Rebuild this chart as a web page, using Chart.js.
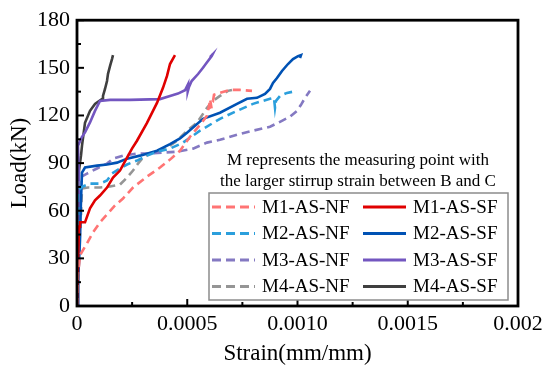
<!DOCTYPE html>
<html>
<head>
<meta charset="utf-8">
<script src="https://cdn.jsdelivr.net/npm/chart.js@4.4.0/dist/chart.umd.min.js"></script>
<style>
html, body { margin: 0; padding: 0; background: #fff; }
</style>
</head>
<body>
<canvas id="loadChart" width="550" height="370"></canvas>
<script>
// tick labels
const xTickLabels = ["0", "0.0005", "0.0010", "0.0015", "0.002"];
const yTickStep = 30;

// M1
const m1nfStrain = [0, 0.0000045, 0.0000136, 0.0000454, 0.0000726, 0.0001043, 0.0001406, 0.0001723, 0.0002086, 0.000254, 0.0003175, 0.0003764, 0.0004218, 0.0004671, 0.0005125, 0.0005578, 0.0005896, 0.0005986, 0.0006122, 0.0006032, 0.0006168, 0.0006213, 0.0006485, 0.0006939, 0.0007392, 0.0007937];
const m1nfLoad   = [0, 19.4, 32.0, 39.5, 46.4, 52.7, 58.3, 63.3, 67.7, 74.6, 81.5, 87.2, 92.2, 97.8, 106.6, 114.1, 119.8, 126.1, 122.9, 130.5, 129.2, 133.0, 134.2, 136.1, 136.1, 135.5];
const m1sfStrain = [0, 0.0000091, 0.0000136, 0.0000363, 0.000059, 0.0000816, 0.0001043, 0.0001361, 0.0001633, 0.000195, 0.0002268, 0.0002494, 0.0002721, 0.0003175, 0.0003628, 0.00039, 0.0004082, 0.0004218, 0.0004444];
const m1sfLoad   = [0, 50.0, 52.7, 52.7, 61.5, 66.5, 69.6, 74.6, 80.9, 85.3, 93.5, 99.1, 104.1, 115.4, 127.9, 137.4, 144.9, 152.4, 158.0];

// M2
const m2nfStrain = [0, 0.0000045, 0.0000045, 0.0000045, 0.0000272, 0.000059, 0.0001043, 0.0001361, 0.0001587, 0.000195, 0.0002268, 0.0002721, 0.0003175, 0.0003628, 0.0004218, 0.0004807, 0.0005578, 0.0006485, 0.0007256, 0.0007982, 0.0008435, 0.0008753, 0.0008934, 0.000898, 0.0009025, 0.0009206, 0.0009524, 0.0009977];
const m2nfLoad   = [0, 28.9, 66.5, 72.8, 75.3, 77.1, 77.1, 79.0, 83.4, 86.6, 89.1, 91.6, 94.7, 97.2, 99.1, 102.9, 110.4, 117.9, 122.9, 127.3, 129.2, 130.5, 131.1, 124.8, 129.2, 132.3, 134.2, 135.5];
const m2sfStrain = [0, 0.0000045, 0.0000136, 0.0000181, 0.0000227, 0.0000363, 0.0000907, 0.0001361, 0.0001814, 0.0002268, 0.0002857, 0.0003628, 0.0004218, 0.0004671, 0.0004989, 0.0005714, 0.0006485, 0.0007256, 0.000771, 0.0008163, 0.0008526, 0.0008753, 0.0008889, 0.000907, 0.0009297, 0.0009569, 0.0009796, 0.0010023, 0.0010159, 0.0010113];
const m2sfLoad   = [0, 14.4, 41.4, 66.5, 84.0, 87.2, 88.4, 89.1, 90.3, 92.8, 94.7, 97.8, 102.0, 105.5, 109.1, 117.9, 121.7, 127.3, 130.5, 131.1, 133.6, 136.7, 140.5, 143.6, 148.0, 152.4, 155.5, 157.4, 158.0, 156.2];

// M3
const m3nfStrain = [0, 0.0000045, 0.0000045, 0.0000136, 0.0000454, 0.0000907, 0.0001361, 0.0001633, 0.0002086, 0.0002721, 0.0003311, 0.00039, 0.0004535, 0.0005261, 0.0005896, 0.0006485, 0.0007256, 0.0007982, 0.0008753, 0.0009206, 0.000966, 0.0009977, 0.0010159, 0.001034, 0.0010567];
const m3nfLoad   = [0, 35.1, 72.8, 80.9, 83.4, 86.6, 89.7, 92.8, 94.7, 96.0, 96.0, 96.6, 97.2, 99.1, 102.9, 104.7, 107.9, 110.4, 112.9, 116.0, 119.2, 122.9, 126.7, 131.1, 135.5];
const m3sfStrain = [0, 0.0000045, 0.0000091, 0.0000045, 0.0000213, 0.0000363, 0.000059, 0.0000816, 0.0001043, 0.0001497, 0.0002404, 0.0003764, 0.0004218, 0.000458, 0.0004898, 0.0005034, 0.000502, 0.000508, 0.00052, 0.000549, 0.0005714, 0.000588, 0.000611, 0.000615, 0.000603];
const m3sfLoad   = [0, 35.1, 79.0, 101.0, 106.2, 109.3, 115.6, 122.9, 129.2, 129.8, 129.8, 130.3, 132.3, 133.8, 135.9, 139.7, 135.0, 138.0, 141.7, 146.1, 150.1, 153.2, 157.4, 158.5, 156.8];

// M4
const m4nfStrain = [0, 0.0000091, 0.0000136, 0.0000181, 0.0000227, 0.0000499, 0.0001043, 0.0001497, 0.000195, 0.0002268, 0.000254, 0.0002766, 0.0002993, 0.0003401, 0.0003764, 0.0004082, 0.0004535, 0.0004989, 0.0005442, 0.0005714, 0.0005896, 0.0006168, 0.0006485, 0.0006848, 0.0007029];
const m4nfLoad   = [0, 28.9, 47.7, 57.1, 74.0, 74.6, 74.6, 75.3, 76.5, 80.9, 85.3, 89.7, 93.5, 96.6, 97.8, 99.7, 104.1, 110.4, 115.4, 121.0, 124.8, 129.2, 132.3, 135.5, 136.1];
const m4sfStrain = [0, 0.0000045, 0.0000045, 0.0000091, 0.0000181, 0.0000227, 0.0000363, 0.000059, 0.0000816, 0.0001134, 0.0001179, 0.000127, 0.0001361, 0.0001406, 0.0001497, 0.0001587, 0.0001633];
const m4sfLoad   = [0, 22.6, 66.5, 85.3, 94.7, 101.0, 115.4, 122.9, 127.3, 130.3, 132.3, 136.7, 141.7, 146.2, 151.1, 155.5, 158.0];

const seriesNames  = ["M1-AS-NF", "M1-AS-SF", "M2-AS-NF", "M2-AS-SF", "M3-AS-NF", "M3-AS-SF", "M4-AS-NF", "M4-AS-SF"];
const seriesColors = ["#ff7474", "#e00000", "#2b9fdc", "#0052b4", "#8479c2", "#7356c0", "#959595", "#3f3f3f"];
const seriesStrain = [m1nfStrain, m1sfStrain, m2nfStrain, m2sfStrain, m3nfStrain, m3sfStrain, m4nfStrain, m4sfStrain];
const seriesLoad   = [m1nfLoad, m1sfLoad, m2nfLoad, m2sfLoad, m3nfLoad, m3sfLoad, m4nfLoad, m4sfLoad];

const noteLines = ["M represents the measuring point with", "the larger stirrup strain between B and C"];

const serif = "'Liberation Serif', 'Times New Roman', serif";
const dashPattern = [8, 5];

const datasets = seriesNames.map((name, i) => ({
    label: name,
    data: seriesStrain[i].map((s, j) => ({ x: s, y: seriesLoad[i][j] })),
    borderColor: seriesColors[i],
    backgroundColor: seriesColors[i],
    borderWidth: 2.6,
    borderDash: name.endsWith("NF") ? dashPattern : [],
    showLine: true,
    pointRadius: 0,
    tension: 0,
    fill: false
}));

// frame + inward ticks + axis titles
const framePlugin = {
    id: "frame",
    afterDatasetsDraw(chart) {
        const { ctx, chartArea: a, scales: { x, y } } = chart;
        ctx.save();
        ctx.strokeStyle = "#000";
        ctx.lineWidth = 2;

        for (let v = 0; v <= 180; v += 15) {
            const py = y.getPixelForValue(v);
            const len = v % 30 === 0 ? 7 : 4;
            ctx.beginPath();
            ctx.moveTo(a.left, py);
            ctx.lineTo(a.left + len, py);
            ctx.stroke();
        }
        for (let i = 0; i <= 8; i++) {
            const px = x.getPixelForValue(i * 0.00025);
            const len = i % 2 === 0 ? 7 : 4;
            ctx.beginPath();
            ctx.moveTo(px, a.bottom);
            ctx.lineTo(px, a.bottom - len);
            ctx.stroke();
        }

        ctx.lineWidth = 2.8;
        ctx.strokeRect(a.left, a.top, a.right - a.left, a.bottom - a.top);

        ctx.fillStyle = "#000";
        ctx.font = "23px " + serif;
        ctx.textAlign = "center";
        ctx.textBaseline = "middle";
        ctx.fillText("Strain(mm/mm)", (a.left + a.right) / 2, 354);

        ctx.translate(20, (a.top + a.bottom) / 2);
        ctx.rotate(-Math.PI / 2);
        ctx.fillText("Load(kN)", 0, 0);
        ctx.restore();
    }
};

// legend box and note text
const legendPlugin = {
    id: "boxLegend",
    afterDraw(chart) {
        const ctx = chart.ctx;
        ctx.save();

        ctx.fillStyle = "#000";
        ctx.font = "17px " + serif;
        ctx.textAlign = "center";
        ctx.textBaseline = "middle";
        noteLines.forEach((t, i) => ctx.fillText(t, 358, 161 + i * 21));

        ctx.fillStyle = "#fff";
        ctx.fillRect(209, 193, 299, 107);
        ctx.strokeStyle = "#8c8c8c";
        ctx.lineWidth = 1.5;
        ctx.strokeRect(209, 193, 299, 107);

        const colX = [212, 363];
        ctx.font = "19px " + serif;
        ctx.textAlign = "left";
        chart.data.datasets.forEach((ds, i) => {
            const cx = colX[i % 2];
            const cy = 207 + Math.floor(i / 2) * 26.5;
            ctx.strokeStyle = ds.borderColor;
            ctx.lineWidth = 3;
            ctx.setLineDash(ds.borderDash.length ? [9, 5] : []);
            ctx.beginPath();
            ctx.moveTo(cx, cy);
            ctx.lineTo(cx + 43, cy);
            ctx.stroke();
            ctx.setLineDash([]);
            ctx.fillStyle = "#000";
            ctx.fillText(ds.label, cx + 50, cy + 1);
        });

        ctx.restore();
    }
};

new Chart(document.getElementById("loadChart"), {
    type: "scatter",
    data: { datasets: datasets },
    options: {
        responsive: false,
        animation: false,
        devicePixelRatio: 1,
        layout: { padding: { left: 0, right: 32, top: 18, bottom: 0 } },
        plugins: {
            legend: { display: false },
            tooltip: { enabled: false }
        },
        scales: {
            x: {
                type: "linear",
                min: 0,
                max: 0.002,
                grid: { display: false, drawTicks: false },
                border: { display: false },
                ticks: {
                    stepSize: 0.0005,
                    autoSkip: false,
                    maxRotation: 0,
                    padding: 5,
                    color: "#000",
                    font: { family: serif, size: 22 },
                    callback: (v, i) => xTickLabels[i]
                },
                afterFit: s => { s.height = 64; }
            },
            y: {
                min: 0,
                max: 180,
                grid: { display: false, drawTicks: false },
                border: { display: false },
                ticks: {
                    stepSize: yTickStep,
                    padding: 7,
                    color: "#000",
                    font: { family: serif, size: 22 }
                },
                afterFit: s => { s.width = 77; }
            }
        }
    },
    plugins: [framePlugin, legendPlugin]
});
</script>
</body>
</html>
